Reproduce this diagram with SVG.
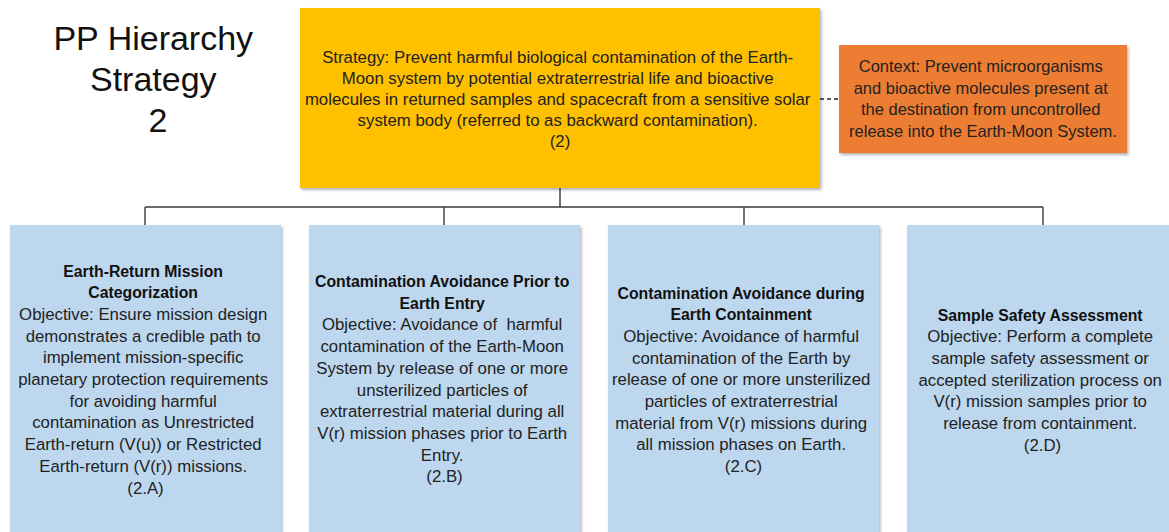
<svg xmlns="http://www.w3.org/2000/svg" width="1169" height="532" viewBox="0 0 1169 532">
  <defs>
    <filter id="shadow" x="-5%" y="-5%" width="115%" height="115%">
      <feDropShadow dx="1.5" dy="2" stdDeviation="1.5" flood-color="#000" flood-opacity="0.3"/>
    </filter>
    <style>
      .title { font-family: "Liberation Sans", Arial, sans-serif; font-size: 34px; fill: #111; text-anchor: middle; }
      .txt { font-family: "Liberation Sans", Arial, sans-serif; font-size: 16.8px; fill: #222; text-anchor: middle; }
      .ctx { font-family: "Liberation Sans", Arial, sans-serif; font-size: 16.5px; fill: #222; text-anchor: middle; }
      .bold { font-weight: bold; font-size: 15.8px; fill: #111; }
      .strategy { fill: #FFC000; filter: url(#shadow); }
      .context { fill: #ED7D31; filter: url(#shadow); }
      .objective { fill: #BDD7EE; filter: url(#shadow); }
      .link { fill: none; stroke: #3a3a3a; stroke-width: 1.4; }
      .dashed { fill: none; stroke: #222; stroke-width: 1.3; stroke-dasharray: 4 3; }
    </style>
  </defs>

  <rect width="1169" height="532" fill="#ffffff"/>

  <!-- Heading -->
  <g id="heading">
    <text class="title">
      <tspan x="158" y="50">PP Hierarchy</tspan>
      <tspan x="158" y="91">Strategy</tspan>
      <tspan x="158" y="132">2</tspan>
    </text>
  </g>

  <!-- Connectors -->
  <g id="connectors">
    <path class="link" d="M560 188 V207 M145 207 H1043 M145 207 V225 M444 207 V225 M744 207 V225 M1043 207 V225"/>
    <path class="dashed" d="M820 99 H839"/>
  </g>

  <!-- Strategy 2 -->
  <g id="strategy-2">
    <rect class="strategy" x="300" y="8" width="520" height="180"/>
    <text class="txt">
      <tspan x="560" y="63">Strategy: Prevent harmful biological contamination of the Earth-</tspan>
      <tspan x="560" y="84">Moon system by potential extraterrestrial life and bioactive</tspan>
      <tspan x="560" y="105">molecules in returned samples and spacecraft from a sensitive solar</tspan>
      <tspan x="560" y="126">system body (referred to as backward contamination).</tspan>
      <tspan x="560" y="147">(2)</tspan>
    </text>
  </g>

  <!-- Context -->
  <g id="context">
    <rect class="context" x="839" y="45" width="288" height="108"/>
    <text class="ctx">
      <tspan x="983" y="72">Context: Prevent microorganisms</tspan>
      <tspan x="983" y="93.5">and bioactive molecules present at</tspan>
      <tspan x="983" y="115">the destination from uncontrolled</tspan>
      <tspan x="983" y="136.5">release into the Earth-Moon System.</tspan>
    </text>
  </g>

  <!-- 2.A -->
  <g id="objective-2a">
    <rect class="objective" x="10" y="225" width="271" height="315"/>
    <text class="txt">
      <tspan class="bold" x="145.5" y="276.5">Earth-Return Mission</tspan>
      <tspan class="bold" x="145.5" y="298.2">Categorization</tspan>
      <tspan x="145.5" y="319.9">Objective: Ensure mission design</tspan>
      <tspan x="145.5" y="341.6">demonstrates a credible path to</tspan>
      <tspan x="145.5" y="363.3">implement mission-specific</tspan>
      <tspan x="145.5" y="385">planetary protection requirements</tspan>
      <tspan x="145.5" y="406.7">for avoiding harmful</tspan>
      <tspan x="145.5" y="428.4">contamination as Unrestricted</tspan>
      <tspan x="145.5" y="450.1">Earth-return (V(u)) or Restricted</tspan>
      <tspan x="145.5" y="471.8">Earth-return (V(r)) missions.</tspan>
      <tspan x="145.5" y="493.5">(2.A)</tspan>
    </text>
  </g>

  <!-- 2.B -->
  <g id="objective-2b">
    <rect class="objective" x="309" y="225" width="271" height="315"/>
    <text class="txt">
      <tspan class="bold" x="444.5" y="287">Contamination Avoidance Prior to</tspan>
      <tspan class="bold" x="444.5" y="308.7">Earth Entry</tspan>
      <tspan x="444.5" y="330.4">Objective: Avoidance of&#160; harmful</tspan>
      <tspan x="444.5" y="352.1">contamination of the Earth-Moon</tspan>
      <tspan x="444.5" y="373.8">System by release of one or more</tspan>
      <tspan x="444.5" y="395.5">unsterilized particles of</tspan>
      <tspan x="444.5" y="417.2">extraterrestrial material during all</tspan>
      <tspan x="444.5" y="438.9">V(r) mission phases prior to Earth</tspan>
      <tspan x="444.5" y="460.6">Entry.</tspan>
      <tspan x="444.5" y="482.3">(2.B)</tspan>
    </text>
  </g>

  <!-- 2.C -->
  <g id="objective-2c">
    <rect class="objective" x="608" y="225" width="271" height="315"/>
    <text class="txt">
      <tspan class="bold" x="743.5" y="298.5">Contamination Avoidance during</tspan>
      <tspan class="bold" x="743.5" y="320.2">Earth Containment</tspan>
      <tspan x="743.5" y="341.9">Objective: Avoidance of harmful</tspan>
      <tspan x="743.5" y="363.6">contamination of the Earth by</tspan>
      <tspan x="743.5" y="385.3">release of one or more unsterilized</tspan>
      <tspan x="743.5" y="407">particles of extraterrestrial</tspan>
      <tspan x="743.5" y="428.7">material from V(r) missions during</tspan>
      <tspan x="743.5" y="450.4">all mission phases on Earth.</tspan>
      <tspan x="743.5" y="472.1">(2.C)</tspan>
    </text>
  </g>

  <!-- 2.D -->
  <g id="objective-2d">
    <rect class="objective" x="907" y="225" width="271" height="315"/>
    <text class="txt">
      <tspan class="bold" x="1042.5" y="320.5">Sample Safety Assessment</tspan>
      <tspan x="1042.5" y="342.2">Objective: Perform a complete</tspan>
      <tspan x="1042.5" y="363.9">sample safety assessment or</tspan>
      <tspan x="1042.5" y="385.6">accepted sterilization process on</tspan>
      <tspan x="1042.5" y="407.3">V(r) mission samples prior to</tspan>
      <tspan x="1042.5" y="429">release from containment.</tspan>
      <tspan x="1042.5" y="450.7">(2.D)</tspan>
    </text>
  </g>
</svg>
